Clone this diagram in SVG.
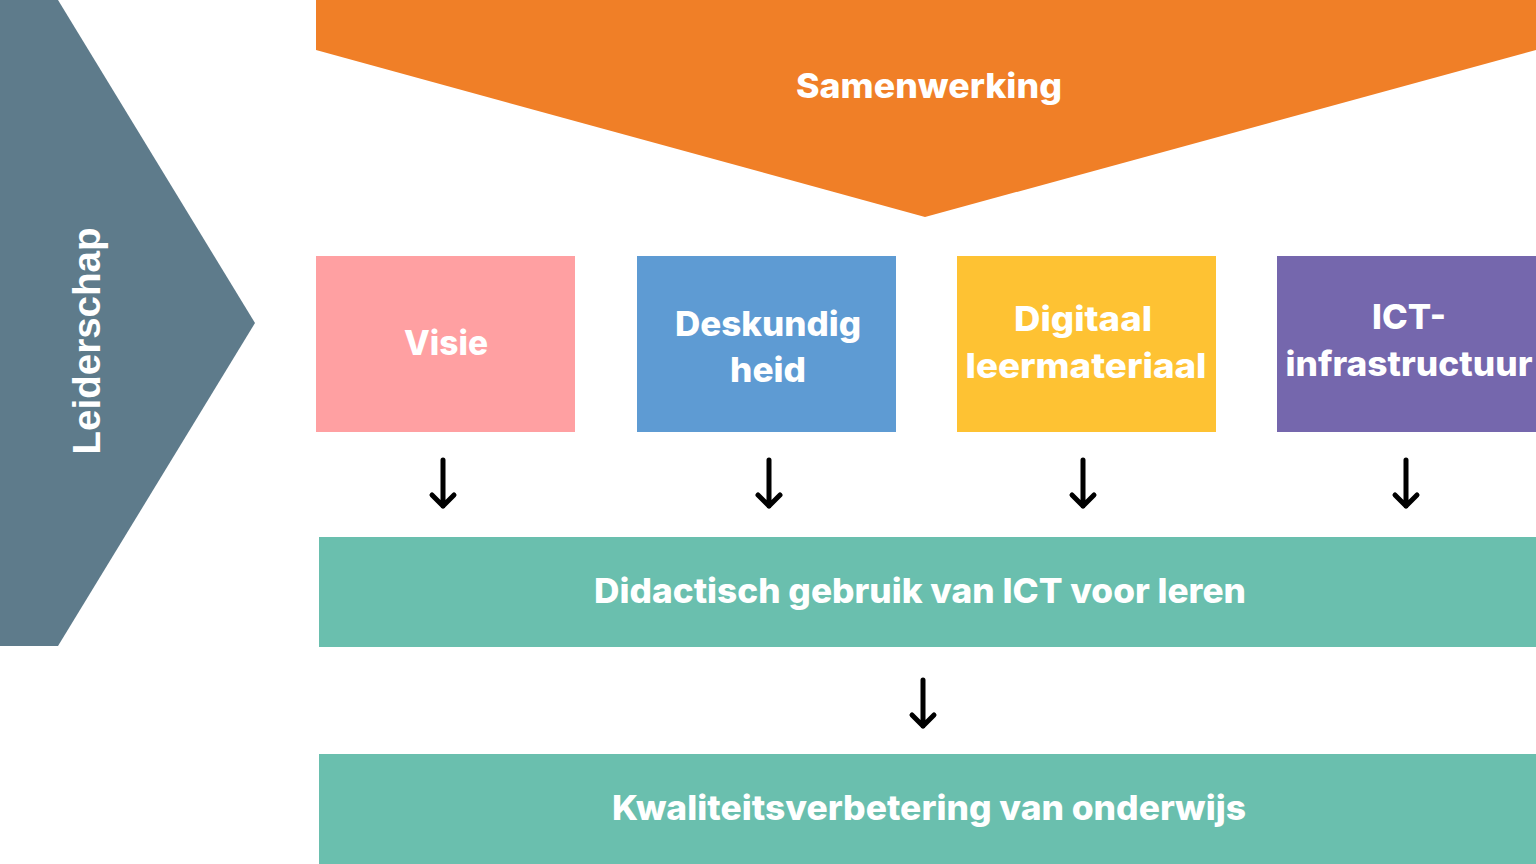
<svg xmlns="http://www.w3.org/2000/svg" width="1536" height="864" viewBox="0 0 1536 864">
<style>
.t{font-family:"Inter","Open Sans","Liberation Sans",sans-serif;font-weight:800;font-size:34px;fill:#fff;text-anchor:middle}
.lead{font-family:"Liberation Sans","Arial",sans-serif;font-weight:700;font-size:38px;fill:#fff;text-anchor:middle}
.arr{stroke:#000;stroke-width:5;fill:none;stroke-linecap:round;stroke-linejoin:round}
</style>
<rect width="1536" height="864" fill="#fff"/>
<g id="leiderschap">
<polygon points="0,0 58,0 255,323 58,646 0,646" fill="#5E7B8B"/>
<text class="lead" transform="translate(100,341) rotate(-90)" textLength="227" lengthAdjust="spacingAndGlyphs">Leiderschap</text>
</g>
<g id="samenwerking">
<polygon points="316,0 1536,0 1536,50 925,217 316,50" fill="#F07F27"/>
<text class="t" x="929" y="98" textLength="266" lengthAdjust="spacingAndGlyphs">Samenwerking</text>
</g>
<g id="visie">
<rect x="316" y="256" width="259" height="176" fill="#FFA0A2"/>
<text class="t" x="446" y="355" textLength="84" lengthAdjust="spacingAndGlyphs">Visie</text>
</g>
<g id="deskundigheid">
<rect x="637" y="256" width="259" height="176" fill="#5E9BD3"/>
<text class="t" x="768" y="336" textLength="186" lengthAdjust="spacingAndGlyphs">Deskundig</text>
<text class="t" x="768" y="382" textLength="76" lengthAdjust="spacingAndGlyphs">heid</text>
</g>
<g id="digitaal">
<rect x="957" y="256" width="259" height="176" fill="#FEC233"/>
<text class="t" x="1083" y="331" textLength="138" lengthAdjust="spacingAndGlyphs">Digitaal</text>
<text class="t" x="1086" y="378" textLength="241" lengthAdjust="spacingAndGlyphs">leermateriaal</text>
</g>
<g id="ict">
<rect x="1277" y="256" width="259" height="176" fill="#7567AD"/>
<text class="t" x="1409" y="329" textLength="74" lengthAdjust="spacingAndGlyphs">ICT-</text>
<text class="t" x="1409" y="376" textLength="247" lengthAdjust="spacingAndGlyphs">infrastructuur</text>
</g>
<g id="didactisch">
<rect x="319" y="537" width="1217" height="110" fill="#6ABFAE"/>
<text class="t" x="920" y="603" textLength="652" lengthAdjust="spacingAndGlyphs">Didactisch gebruik van ICT voor leren</text>
</g>
<g id="kwaliteit">
<rect x="319" y="754" width="1217" height="110" fill="#6ABFAE"/>
<text class="t" x="929" y="820" textLength="634" lengthAdjust="spacingAndGlyphs">Kwaliteitsverbetering van onderwijs</text>
</g>
<g id="connectors">
<path class="arr" d="M443,460 V506 M432,495 L443,506 L454,495"/>
<path class="arr" d="M769,460 V506 M758,495 L769,506 L780,495"/>
<path class="arr" d="M1083,460 V506 M1072,495 L1083,506 L1094,495"/>
<path class="arr" d="M1406,460 V506 M1395,495 L1406,506 L1417,495"/>
<path class="arr" d="M923,680 V726 M912,715 L923,726 L934,715"/>
</g>
</svg>
